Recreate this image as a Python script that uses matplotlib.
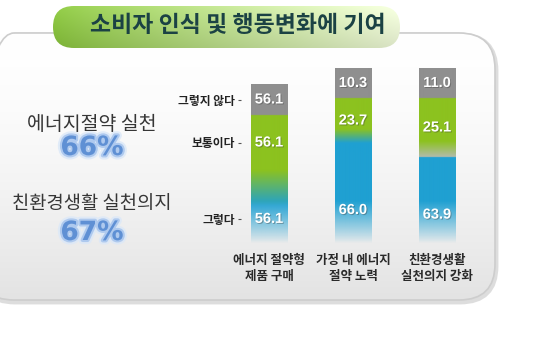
import numpy as np
import matplotlib
matplotlib.use("Agg")
import matplotlib.pyplot as plt
from matplotlib.patches import FancyBboxPatch
import matplotlib.patheffects as pe
from matplotlib.colors import to_rgb
from matplotlib import font_manager

plt.rcParams['font.family'] = ['Noto Sans CJK KR', 'DejaVu Sans']

# ---------------- data ----------------
title = "소비자 인식 및 행동변화에 기여"
categories = ["에너지 절약형\n제품 구매", "가정 내 에너지\n절약 노력", "친환경생활\n실천의지 강화"]
levels = ["그렇다", "보통이다", "그렇지 않다"]
yes_labels = [56.1, 66.0, 63.9]
neutral_labels = [56.1, 23.7, 25.1]
no_labels = [56.1, 10.3, 11.0]
# segment lengths as drawn in the picture (the original graphic is not to scale)
yes_shown = [73, 100, 86]
neutral_shown = [55, 45, 59]
no_shown = [31, 30, 30]
headline_labels = ["에너지절약 실천", "친환경생활 실천의지"]
headline_values = ["66%", "67%"]


def has_font(name):
    try:
        font_manager.findfont(font_manager.FontProperties(family=name),
                              fallback_to_default=False)
        return True
    except Exception:
        return False


# ---------------- style ----------------
W, H = 557, 350
C_GRAY = np.array(to_rgb("#8f8f8f"))
C_GREEN = np.array(to_rgb("#8cc21f"))
C_BLUE = np.array(to_rgb("#1fa0d2"))
blend_low = ["#1fa0d2", "#1fa0d2", "#b3bbad"]
blend_below = [36, 14, 0]
blend_above = [0, 14, 16]
fade = 42
bar_w = 0.44
num_font = 'Liberation Sans Narrow' if has_font('Liberation Sans Narrow') else 'Liberation Sans'
num_size = 11.5 if num_font == 'Liberation Sans Narrow' else 10.5

fig = plt.figure(figsize=(W / 100, H / 100), dpi=100)
fig.patch.set_facecolor("white")

bg = fig.add_axes([0, 0, 1, 1])
bg.set_axis_off()

# panel
px0, py0, pw, ph = -22, 33, 517, 267
shadow = FancyBboxPatch((px0 + 1, py0 + 2), pw, ph,
                        boxstyle="round,pad=0,rounding_size=36",
                        fc="none", ec="#dddddd", lw=3.5, zorder=1)
bg.add_patch(shadow)
panel = FancyBboxPatch((px0, py0), pw, ph, boxstyle="round,pad=0,rounding_size=36",
                       fc="none", ec="#cdcdcd", lw=1.2, zorder=3)
bg.add_patch(panel)
n = 200
tt = np.linspace(0, 1, n)[:, None]
top_c = np.array(to_rgb("#ffffff"))
bot_c = np.array(to_rgb("#e3e3e3"))
grad = (top_c * (1 - tt ** 1.6) + bot_c * tt ** 1.6)[:, None, :]
im = bg.imshow(grad, extent=(px0, px0 + pw, py0 + ph, py0), origin="upper",
               aspect="auto", zorder=2)
im.set_clip_path(panel)

# title pill
pill = FancyBboxPatch((53, 6), 347, 42, boxstyle="round,pad=0,rounding_size=21",
                      fc="none", ec="none", zorder=5)
bg.add_patch(pill)
hx = np.linspace(0, 1, 300)[None, :, None]
vy = np.linspace(0, 1, 60)[:, None, None]
left_c = np.array(to_rgb("#84bf38"))
right_c = np.array(to_rgb("#eaf4d4"))
pgrad = left_c * (1 - hx ** 0.9) + right_c * hx ** 0.9
pgrad = pgrad * (0.93 + 0.07 * (1 - vy)) + 0.06 * (1 - vy)
pgrad = np.clip(pgrad, 0, 1)
pim = bg.imshow(pgrad, extent=(53, 400, 48, 6), origin="upper", aspect="auto", zorder=6)
pim.set_clip_path(pill)
bg.text(238, 25, title, ha="center", va="center", fontsize=16.5, fontweight="bold",
        color="#1b4244", zorder=7)

# headlines
head_y = [(124, 148), (203, 233)]
head_sizes = [14, 13.5]
glow = [pe.Stroke(linewidth=6, foreground="#dbe8f8", alpha=0.8),
        pe.Stroke(linewidth=3, foreground="#a9c6ee", alpha=0.9),
        pe.Normal()]
for lab, val, (y1, y2), fs in zip(headline_labels, headline_values, head_y, head_sizes):
    bg.text(92, y1, lab, ha="center", va="center", fontsize=fs, color="#363636", zorder=7)
    bg.text(92, y2, val, ha="center", va="center", fontsize=19, fontweight="bold",
            color="#5f90d4", family=['DejaVu Sans'], path_effects=glow, zorder=7)

bg.set_xlim(0, W)
bg.set_ylim(H, 0)

# ---------------- bars ----------------
ax_left, ax_bottom, ax_w, ax_h = 227, 107, 252, 183
ax = fig.add_axes([ax_left / W, ax_bottom / H, ax_w / W, ax_h / H])
ax.patch.set_alpha(0)
for s in ax.spines.values():
    s.set_visible(False)

for i in range(len(categories)):
    b1 = yes_shown[i]
    b2 = b1 + neutral_shown[i]
    T = b2 + no_shown[i]
    nr = int(T * 3)
    y = (np.arange(nr) + 0.5) / nr * T
    rgba = np.zeros((nr, 1, 4))
    low = np.array(to_rgb(blend_low[i]))
    for k, yy in enumerate(y):
        if yy >= b2:
            c = C_GRAY
        elif yy >= b1 + blend_above[i]:
            c = C_GREEN
        elif yy >= b1 - blend_below[i] and (blend_above[i] + blend_below[i]) > 0:
            if yy >= b1:
                t = (yy - b1) / max(blend_above[i], 1e-9)
                c = low * (1 - t) + C_GREEN * t
            else:
                t = (yy - (b1 - blend_below[i])) / max(blend_below[i], 1e-9)
                c = C_BLUE * (1 - t) + (C_GREEN if blend_above[i] == 0 else low) * t
        else:
            c = C_BLUE
        a = np.clip(yy / fade, 0, 1) ** 0.9
        rgba[k, 0, :3] = c
        rgba[k, 0, 3] = a
    ax.imshow(rgba, extent=(i - bar_w / 2, i + bar_w / 2, 0, T), origin="lower",
              aspect="auto", interpolation="bilinear", zorder=2)
    shadow_fx = [pe.withSimplePatchShadow(offset=(0.7, -0.7), shadow_rgbFace="#333333", alpha=0.35)]
    for val, yy in [(no_labels[i], b2 + no_shown[i] / 2),
                    (neutral_labels[i], b1 + neutral_shown[i] / 2),
                    (yes_labels[i], yes_shown[i] * 0.33)]:
        ax.text(i, yy, f"{val:.1f}", ha="center", va="center", color="white",
                fontsize=num_size, fontweight="bold", family=[num_font, 'DejaVu Sans'],
                path_effects=shadow_fx, zorder=4)

# level labels next to first bar
lev_y = [yes_shown[0] * 0.33, yes_shown[0] + neutral_shown[0] / 2,
         yes_shown[0] + neutral_shown[0] + no_shown[0] / 2]
ax.spines["left"].set_position(("data", -0.33))
ax.set_yticks(lev_y, levels)
ax.tick_params(axis="y", length=2.5, width=0.8, color="#555555", pad=2,
               labelsize=8.5, labelcolor="#222222")
for t in ax.get_yticklabels():
    t.set_fontweight("bold")
ax.set_xticks(range(len(categories)), categories)
ax.tick_params(axis="x", length=0, pad=8, labelsize=9, labelcolor="#2a2a2a")
for t in ax.get_xticklabels():
    t.set_fontweight("bold")
    t.set_linespacing(1.3)
ax.set_xlim(-0.5, 2.5)
ax.set_ylim(0, ax_h)

fig.savefig("out.png", dpi=100, facecolor="white")
